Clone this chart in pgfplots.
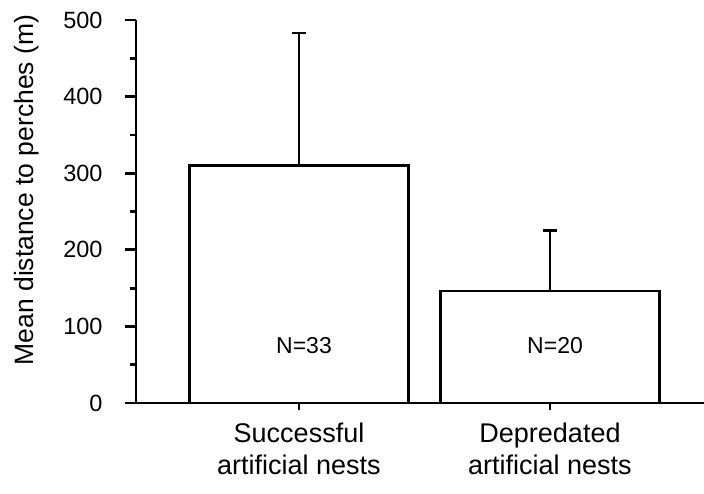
\documentclass[border=0pt]{standalone}
\usepackage{fontspec}
\setmainfont{Liberation Sans}
\usepackage{pgfplots}
\pgfplotsset{compat=1.18}
\begin{document}
\begin{tikzpicture}
\begin{axis}[
  scale only axis, width=568pt, height=383pt,
  xmin=0.3506, xmax=2.6135, ymin=0, ymax=500,
  axis x line*=bottom, axis y line*=left,
  axis line style={-, line width=2.8pt},
  tick style={black, line width=2.8pt},
  tick align=outside,
  major tick length=11pt, minor tick length=6pt,
  xtick style={/pgfplots/major tick length=7pt},
  ytick={0,100,...,500}, minor ytick={50,150,...,450},
  xtick={1,2},
  xticklabels={{Successful\\artificial nests},{Depredated\\artificial nests}},
  x tick label style={font=\fontsize{27}{32.5}\selectfont, align=center, yshift=-5pt},
  y tick label style={font=\fontsize{23.5}{27}\selectfont, xshift=-19pt},
  /pgf/number format/assume math mode=true,
  ylabel={Mean distance to perches (m)},
  every axis y label/.style={at={(axis description cs:-0.1928,0.556)}, rotate=90, anchor=center, font=\fontsize{26.5}{30}\selectfont},
]
\addplot[ybar, bar width=0.8725, fill=white, draw=black, line width=2.6pt,
  error bars/.cd, y dir=plus, y explicit,
  error bar style={line width=2.6pt, black},
  error mark options={rotate=90, line width=2.6pt, mark size=7pt, black}]
  coordinates {(1,310) +- (0,173) (2,146) +- (0,79)};
\node[font=\fontsize{23}{27}\selectfont] at (axis cs:1.02,75) {N=33};
\node[font=\fontsize{23}{27}\selectfont] at (axis cs:2.02,75) {N=20};
\end{axis}
\pgfresetboundingbox
\useasboundingbox (-136pt,-90pt) rectangle (568pt,403pt);
\end{tikzpicture}
\end{document}
